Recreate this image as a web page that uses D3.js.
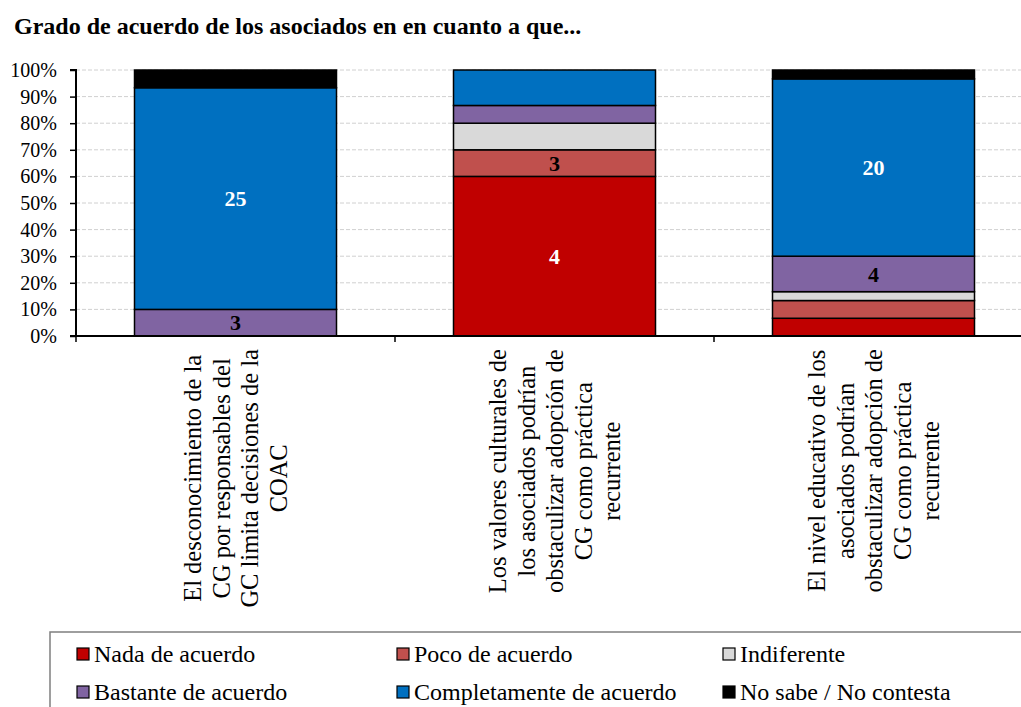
<!DOCTYPE html>
<html><head><meta charset="utf-8">
<script src="https://cdn.jsdelivr.net/npm/d3@7"></script>
<style>body{margin:0;background:#fff;} svg{display:block;} svg text{font-family:"Liberation Serif","Times New Roman",Tinos,"DejaVu Serif",serif;}</style>
</head><body>
<svg id="c" width="1021" height="707"></svg>
<script>
const title = "Grado de acuerdo de los asociados en en cuanto a que...";
const categories = [
  ["El desconocimiento de la","CG por responsables del","GC limita decisiones de la","COAC"],
  ["Los valores culturales de","los asociados podrían","obstaculizar adopción de","CG como práctica","recurrente"],
  ["El nivel educativo de los","asociados podrían","obstaculizar adopción de","CG como práctica","recurrente"]
];
const series = ["Nada de acuerdo","Poco de acuerdo","Indiferente","Bastante de acuerdo","Completamente de acuerdo","No sabe / No contesta"];
const colors = ["#C00000","#C0504D","#D9D9D9","#8064A2","#0070C0","#000000"];
const labelColors = ["#fff","#000","#000","#000","#fff","#fff"];
// counts per category for each series (bars are 100% stacked)
const nada = [0,18,2];
const poco = [0,3,2];
const indiferente = [0,3,1];
const bastante = [3,2,4];
const completamente = [25,4,20];
const noSabe = [2,0,1];
// data labels as shown on the chart (null = no label)
const shownLabels = [
  [null,"4",null],
  [null,"3",null],
  [null,null,null],
  ["3",null,"4"],
  ["25",null,"20"],
  [null,null,null]
];
const yTicks = [0,0.1,0.2,0.3,0.4,0.5,0.6,0.7,0.8,0.9,1];

const values = [nada,poco,indiferente,bastante,completamente,noSabe];
const svg = d3.select("#c");
const pLeft = 76, pTop = 70, pBottom = 336, bandW = 319;
const x = d3.scaleBand().domain(d3.range(categories.length)).range([pLeft, pLeft + bandW*3]).paddingInner(0).paddingOuter(0);
const y = d3.scaleLinear().domain([0,1]).range([pBottom, pTop]);

svg.append("text").attr("x",14).attr("y",34).attr("font-weight","bold").attr("font-size",24).text(title);

// gridlines
svg.append("g").selectAll("line").data(yTicks.slice(1)).join("line")
  .attr("x1",pLeft).attr("x2",1021).attr("y1",d=>y(d)).attr("y2",d=>y(d))
  .attr("stroke","#d0d0d0").attr("stroke-width",1).attr("stroke-dasharray","4,2");

// stacking
const rows = categories.map((c,i)=>{const o={i}; series.forEach((s,k)=>o[s]=values[k][i]); return o;});
const stack = d3.stack().keys(series).offset(d3.stackOffsetExpand);
const stacked = stack(rows);
const bw = 202;
stacked.forEach((layer,k)=>{
  const g = svg.append("g");
  g.selectAll("rect").data(layer.filter(d=>d[1]-d[0]>0)).join("rect")
    .attr("x",d=>x(d.data.i)+x.bandwidth()/2-bw/2).attr("width",bw)
    .attr("y",d=>y(d[1])).attr("height",d=>y(d[0])-y(d[1]))
    .attr("fill",colors[k]).attr("stroke","#000").attr("stroke-width",1.5);
  g.selectAll("text").data(layer.filter(d=>shownLabels[k][d.data.i]!=null)).join("text")
    .attr("x",d=>x(d.data.i)+x.bandwidth()/2).attr("y",d=>(y(d[0])+y(d[1]))/2)
    .attr("dy","0.35em").attr("text-anchor","middle").attr("font-weight","bold").attr("font-size",22)
    .attr("fill",labelColors[k]).text(d=>shownLabels[k][d.data.i]);
});

// y axis
const yAxis = d3.axisLeft(y).tickValues(yTicks).tickFormat(d3.format(".0%")).tickSize(6).tickPadding(13);
const ya = svg.append("g").attr("transform",`translate(${pLeft},0)`).call(yAxis).attr("font-family",null).attr("font-size",null);
ya.select(".domain").attr("stroke","#000").attr("stroke-width",2).attr("d",`M-6,${pTop}H0V${pBottom}`);
ya.selectAll(".tick line").attr("stroke","#000").attr("stroke-width",1.5);
ya.selectAll(".tick text").attr("font-size",20).attr("fill","#000");

// x axis
svg.append("line").attr("x1",pLeft-6).attr("x2",1021).attr("y1",pBottom).attr("y2",pBottom).attr("stroke","#000").attr("stroke-width",2);
svg.append("g").selectAll("line").data(d3.range(categories.length+1)).join("line")
  .attr("x1",d=>pLeft+d*x.bandwidth()).attr("x2",d=>pLeft+d*x.bandwidth()).attr("y1",pBottom).attr("y2",pBottom+6)
  .attr("stroke","#000").attr("stroke-width",1.5);

// category labels (rotated)
const lh = 28.5;
categories.forEach((lines,i)=>{
  const cx = x(i)+x.bandwidth()/2;
  const g = svg.append("g");
  const t = g.append("text").attr("font-size",24.5).attr("text-anchor","middle");
  lines.forEach((l,j)=>t.append("tspan").attr("x",0).attr("y",(j-(lines.length-1)/2)*lh).attr("dy","0.35em").text(l));
  const w = t.node().getBBox().width;
  g.attr("transform",`translate(${cx},${pBottom+13+w/2}) rotate(-90)`);
});

// legend
svg.append("rect").attr("x",50).attr("y",632).attr("width",1000).attr("height",100).attr("fill","none").attr("stroke","#7f7f7f").attr("stroke-width",1.5);
const colX = [77,397,723], rowY = [654,692];
series.forEach((s,k)=>{
  const cx = colX[k%3], cy = rowY[Math.floor(k/3)];
  svg.append("rect").attr("x",cx).attr("y",cy-6).attr("width",12).attr("height",12).attr("fill",colors[k]).attr("stroke","#000").attr("stroke-width",1.2);
  svg.append("text").attr("x",cx+17).attr("y",cy).attr("dy","0.35em").attr("font-size",24).text(s);
});
</script>
</body></html>
